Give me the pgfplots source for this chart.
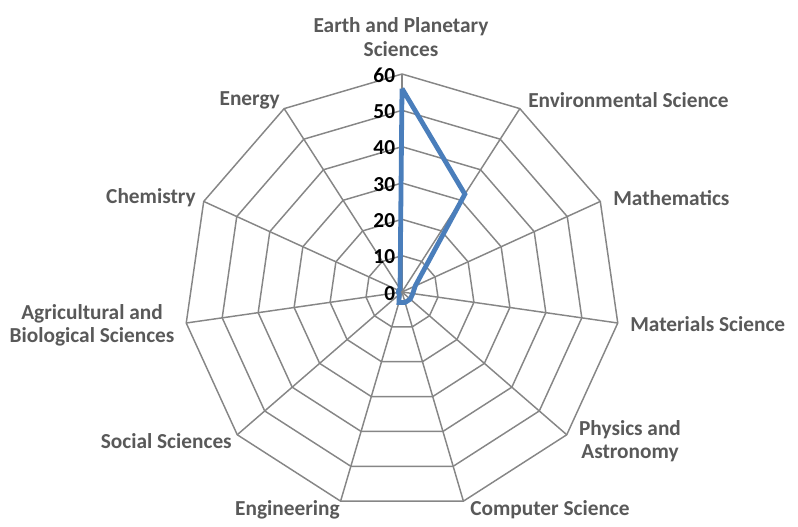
\documentclass[border=0pt]{standalone}
\usepackage{fontspec}
\setmainfont{Carlito}
\usepackage{pgfplots}
\pgfplotsset{compat=1.18}
\usepgfplotslibrary{polar}
\usepackage{pgfplotstable}
\definecolor{gridc}{HTML}{868686}
\definecolor{labc}{HTML}{595959}
\definecolor{serc}{HTML}{4A7EBB}

% angle (deg, counterclockwise from east) and value
\pgfplotstableread{
a v
90 56
57.2727 32
24.5455 4
351.8182 3
319.0909 3
286.3636 3
253.6364 3
220.9091 1
188.1818 1
155.4545 1
122.7273 1
90 56
}\datatab

\begin{document}
\begin{tikzpicture}[x=0.75pt,y=0.75pt]
\path[use as bounding box] (0,0) rectangle (798,527);
\begin{polaraxis}[
  at={(301.5pt,176.25pt)}, anchor=center,
  scale only axis, width=327pt, height=327pt,
  xmin=0, xmax=360, ymin=0, ymax=60,
  hide axis, clip=false,
]
\pgfplotsinvokeforeach{10,20,30,40,50,60}{
  \addplot[gridc, line width=1.1pt, mark=none] table[x=a, y expr=#1] {\datatab};
}
\pgfplotsinvokeforeach{90,57.2727,24.5455,351.8182,319.0909,286.3636,253.6364,220.9091,188.1818,155.4545,122.7273}{
  \addplot[gridc, line width=1.1pt, mark=none] coordinates {(#1,0) (#1,60)};
}
\addplot[serc, line width=3.6pt, mark=none] table[x=a, y=v] {\datatab};
\pgfplotsinvokeforeach{0,10,20,30,40,50,60}{
  \node[anchor=east, font=\fontsize{16}{17}\selectfont\bfseries, text=black, inner sep=0pt, xshift=-5pt, yshift=-1pt] at (axis cs:90,#1) {#1};
}
\end{polaraxis}
\begin{scope}[every node/.style={font=\fontsize{16}{17.5}\selectfont\bfseries, text=labc, inner sep=0pt, align=center}]
\node at (401,490) {Earth and Planetary\\Sciences};
\node[anchor=west] at (528,427) {Environmental Science};
\node[anchor=west] at (613,329) {Mathematics};
\node[anchor=west] at (630,203) {Materials Science};
\node at (630,86) {Physics and\\Astronomy};
\node[anchor=west] at (470,17) {Computer Science};
\node[anchor=east] at (340,17) {Engineering};
\node[anchor=east] at (232,86) {Social Sciences};
\node at (92,202) {Agricultural and\\Biological Sciences};
\node[anchor=east] at (196,329) {Chemistry};
\node[anchor=east] at (280,427) {Energy};
\end{scope}
\end{tikzpicture}
\end{document}
